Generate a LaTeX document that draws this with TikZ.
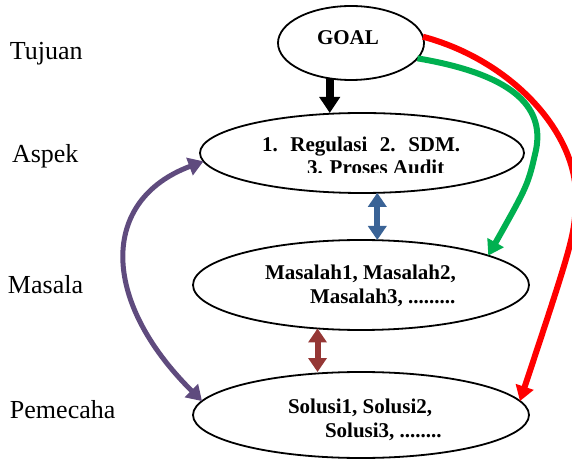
\documentclass[tikz,border=0pt]{standalone}
\usepackage{fontspec}
\setmainfont{Liberation Serif}
\usetikzlibrary{shapes.geometric, arrows.meta}
\definecolor{aspblue}{HTML}{3A6396}
\definecolor{masred}{HTML}{953735}
\definecolor{solpurple}{HTML}{5F4B7E}
\definecolor{goalgreen}{HTML}{00B050}

\begin{document}
\begin{tikzpicture}[x=0.5pt, y=-0.5pt]
    \useasboundingbox (0,0) rectangle (572,459);
    \begin{scope}[every node/.style={inner sep=0, outer sep=0}, oval/.style={draw, ellipse, line width=0.9pt}, lbl/.style={anchor=base west, font=\fontsize{13}{15}\selectfont}, txt/.style={anchor=base west, font=\fontsize{10.5}{12}\selectfont\bfseries}, fat/.style={line width=4pt, -{Triangle[width=10pt, length=8pt]}}, twin/.style={line width=3pt, {Triangle[width=9pt, length=7pt]}-{Triangle[width=9pt, length=7pt]}}, curvy/.style={line width=3pt, -{Triangle[width=9pt, length=7.5pt]}}]
      \node [oval, minimum width=73pt, minimum height=37pt] (goal) at (351,43) {};
      \node [oval, minimum width=162pt, minimum height=40pt] (aspek) at (362,153) {};
      \node [oval, minimum width=168pt, minimum height=45pt] (masalah) at (361,285) {};
      \node [oval, minimum width=168pt, minimum height=43pt] (solusi) at (361,415) {};
      \foreach \x/\y/\t in {10/60/Tujuan, 12/163/Aspek, 8/293/Masala, 10/418/Pemecaha} {\node [lbl] (\t) at (\x,\y) {\t};}
      \node [txt] (goaltxt) at (317,45) {GOAL};
      \begin{scope}
        \clip (200,100) rectangle (530,173);
        \node [txt] (asptxta) at (262,152) {1.\hspace{6.3pt}Regulasi\hspace{6.3pt}2.\hspace{6.3pt}SDM.};
        \node [txt] (asptxtb) at (307,175) {3. Proses Audit};
      \end{scope}
      \node [txt] (mastxta) at (265,280) {Masalah1, Masalah2,};
      \node [txt] (mastxtb) at (310,304) {Masalah3, .........};
      \node [txt] (soltxta) at (288,413) {Solusi1, Solusi2,};
      \node [txt] (soltxtb) at (325,437) {Solusi3, ........};
      \draw [fat] (goal.239) -- (goal.239 |- aspek.north);
      \draw [twin, aspblue] (aspek.-69) -- (aspek.-69 |- masalah.north);
      \draw [twin, masred] (masalah.225) -- (masalah.225 |- solusi.north);
      \draw [curvy, goalgreen] (goal.-13) .. controls (510,74) and (545,105) .. (536,150) .. controls (528,185) .. (masalah.13);
      \draw [curvy, red] (goal.5) .. controls (510,60) and (575,130) .. (576,195) .. controls (575,235) .. (solusi.5);
      \draw [line width=2.5pt, solpurple, {Triangle[width=9pt, length=7.5pt]}-{Triangle[width=9pt, length=7.5pt]}] (solusi.175) .. controls (100,300) and (100,200) .. (aspek.183);
    \end{scope}
\end{tikzpicture}
\end{document}
